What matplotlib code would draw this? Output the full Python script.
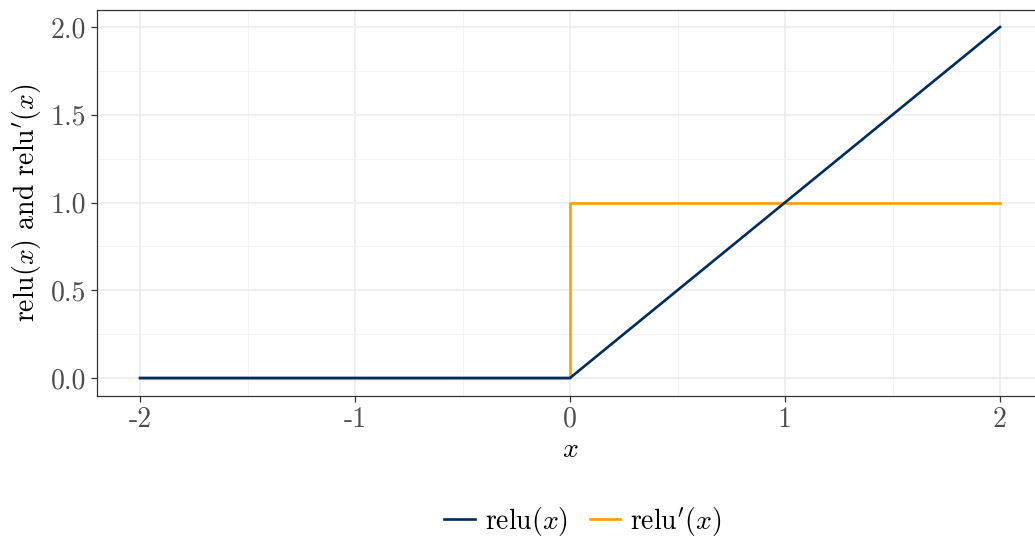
import numpy as np
import matplotlib
matplotlib.use("Agg")
import matplotlib.pyplot as plt
from matplotlib.ticker import MultipleLocator

# data
relu_x = [-2, 0, 2]
relu_y = [0, 0, 2]
drelu_x = [-2, 0, 0, 2]
drelu_y = [0, 0, 1, 1]
x_ticks = [-2, -1, 0, 1, 2]
x_labels = ["-2", "-1", "0", "1", "2"]
y_ticks = [0.0, 0.5, 1.0, 1.5, 2.0]
y_labels = ["0.0", "0.5", "1.0", "1.5", "2.0"]

plt.rcParams["font.family"] = "cmr10"
plt.rcParams["mathtext.fontset"] = "cm"
plt.rcParams["axes.unicode_minus"] = False

W, H = 1035, 543
fig = plt.figure(figsize=(W / 100, H / 100), dpi=100)
ax = fig.add_axes([97 / W, 1 - 395.5 / H, (1043 - 97) / W, (395.5 - 9.5) / H])

navy = "#002C5F"
orange = "#FF9E00"

ax.plot(drelu_x, drelu_y, color=orange, lw=1.9, label=r"$\mathrm{relu}'(x)$", zorder=3)
ax.plot(relu_x, relu_y, color=navy, lw=1.9, label=r"$\mathrm{relu}(x)$", zorder=4)

ax.set_xlim(-2.2, 2.2)
ax.set_ylim(-0.1, 2.1)
ax.set_xticks(x_ticks)
ax.set_xticklabels(x_labels)
ax.set_yticks(y_ticks)
ax.set_yticklabels(y_labels)
ax.xaxis.set_minor_locator(MultipleLocator(0.5))
ax.yaxis.set_minor_locator(MultipleLocator(0.25))

ax.grid(True, which="major", color="#EBEBEB", lw=1.1, zorder=0)
ax.grid(True, which="minor", color="#F2F2F2", lw=0.6, zorder=0)
ax.set_axisbelow(True)
ax.tick_params(which="major", length=4, width=0.9, color="#333333",
               labelsize=20, labelcolor="#4D4D4D", pad=4)
ax.tick_params(which="minor", length=0)
for s in ax.spines.values():
    s.set_color("#333333")
    s.set_linewidth(0.9)

ax.set_xlabel(r"$x$", fontsize=20, labelpad=3)
ax.set_ylabel(r"$\mathrm{relu}(x)$ and $\mathrm{relu}'(x)$", fontsize=20, labelpad=5)

handles, labels = ax.get_legend_handles_labels()
fig.legend(handles[::-1], labels[::-1], loc="center", bbox_to_anchor=(583 / W, 1 - 521 / H),
           ncol=2, frameon=False, fontsize=20, handlelength=1.1, handletextpad=0.35,
           columnspacing=0.8)

fig.savefig("out.png", dpi=100)
